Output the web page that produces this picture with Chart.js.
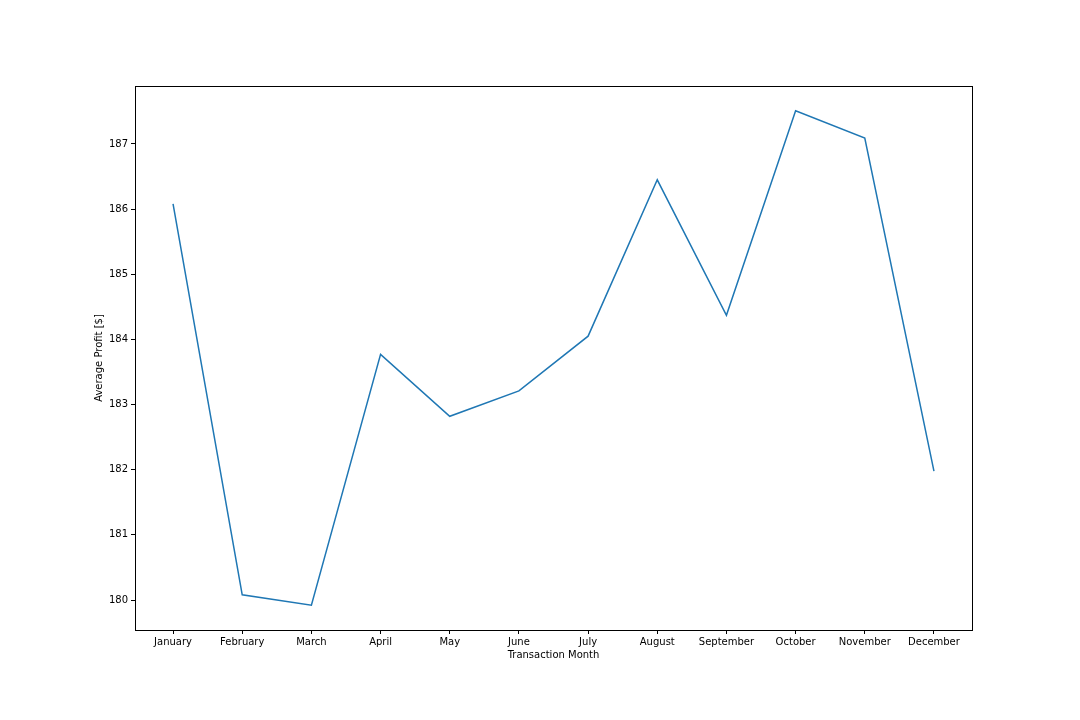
<!DOCTYPE html>
<html lang="en">
<head>
  <meta charset="utf-8" />
  <script src="https://cdn.jsdelivr.net/npm/chart.js/dist/chart.umd.min.js"></script>
  <style>
    html, body { margin: 0; padding: 0; background: #fff; }
    #chartBox { width: 1080px; height: 720px; }
  </style>
</head>
<body>
  <div id="chartBox">
    <canvas id="lineChart" width="1080" height="720"></canvas>
  </div>
  <script>
// data
const months = ['January', 'February', 'March', 'April', 'May', 'June',
                'July', 'August', 'September', 'October', 'November', 'December'];
const avgProfit = [186.08, 180.08, 179.92, 183.77, 182.82, 183.21,
                   184.05, 186.45, 184.37, 187.51, 187.09, 181.98];
const yTicks = [180, 181, 182, 183, 184, 185, 186, 187];

const points = avgProfit.map((v, i) => ({ x: i, y: v }));

// frame around the plot area, like matplotlib spines
const frame = {
    id: 'frame',
    afterDraw(chart) {
        const a = chart.chartArea;
        const c = chart.ctx;
        c.save();
        c.strokeStyle = '#000';
        c.lineWidth = 1;
        c.strokeRect(Math.round(a.left) + 0.5, Math.round(a.top) + 0.5,
                     Math.round(a.right - a.left), Math.round(a.bottom - a.top));
        c.restore();
    }
};

Chart.defaults.font.family = 'DejaVu Sans';
Chart.defaults.font.size = 10;
Chart.defaults.color = '#000';

const ctx = document.getElementById('lineChart').getContext('2d');
new Chart(ctx, {
    type: 'line',
    data: {
        datasets: [{
            data: points,
            borderColor: '#1f77b4',
            borderWidth: 1.5,
            pointRadius: 0,
            tension: 0,
            fill: false
        }]
    },
    options: {
        responsive: false,
        animation: false,
        layout: { padding: { left: 93, top: 86, right: 108, bottom: 59 } },
        plugins: {
            legend: { display: false },
            tooltip: { enabled: false }
        },
        scales: {
            x: {
                type: 'linear',
                min: -0.55,
                max: months.length - 1 + 0.55,
                afterBuildTicks: s => { s.ticks = months.map((m, i) => ({ value: i })); },
                afterFit: s => { s.height = 31; },
                ticks: {
                    callback: v => months[v],
                    maxRotation: 0,
                    autoSkip: false,
                    padding: 2
                },
                grid: {
                    drawOnChartArea: false,
                    tickLength: 4,
                    tickColor: '#000'
                },
                border: { display: false },
                title: {
                    display: true,
                    text: 'Transaction Month',
                    padding: { top: 0, bottom: 0 }
                }
            },
            y: {
                min: 179.54,
                max: 187.89,
                afterBuildTicks: s => { s.ticks = yTicks.map(v => ({ value: v })); },
                afterFit: s => { s.width = 42; },
                ticks: { padding: 3 },
                grid: {
                    drawOnChartArea: false,
                    tickLength: 4,
                    tickColor: '#000'
                },
                border: { display: false },
                title: {
                    display: true,
                    text: 'Average Profit [$]',
                    padding: { top: 0, bottom: 0 }
                }
            }
        }
    },
    plugins: [frame]
});
  </script>
</body>
</html>
